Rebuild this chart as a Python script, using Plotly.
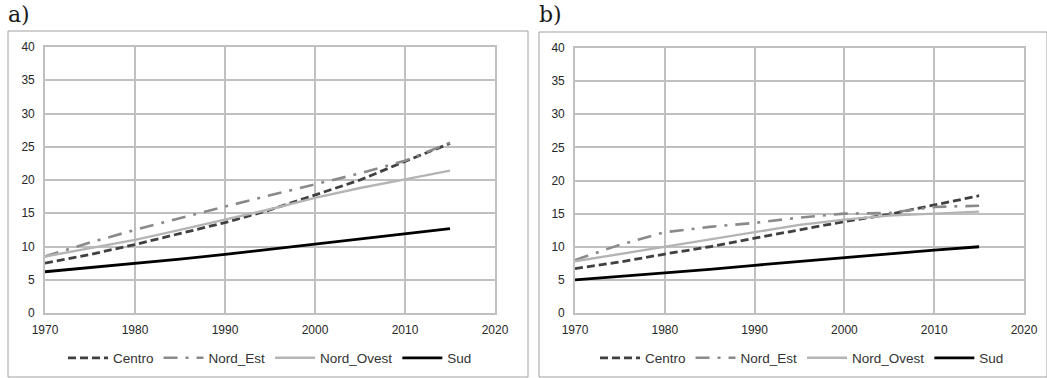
import plotly.graph_objects as go

W, H = 1047, 378

years = [1970, 1975, 1980, 1985, 1990, 1995, 2000, 2005, 2010, 2015]

# Panel a)
a_centro     = [7.5, 8.8, 10.3, 11.9, 13.6, 15.5, 17.7, 20.0, 22.8, 25.5]
a_nord_est   = [8.5, 10.6, 12.5, 14.3, 16.0, 17.7, 19.4, 21.0, 22.9, 25.6]
a_nord_ovest = [8.5, 9.7, 11.0, 12.5, 14.0, 15.6, 17.3, 18.8, 20.1, 21.4]
a_sud        = [6.2, 6.8, 7.5, 8.1, 8.8, 9.6, 10.3, 11.2, 12.0, 12.7]

# Panel b)
b_centro     = [6.7, 7.7, 8.9, 10.0, 11.3, 12.6, 13.8, 14.9, 16.3, 17.7]
b_nord_est   = [8.0, 10.3, 12.2, 13.0, 13.6, 14.4, 15.0, 15.1, 16.0, 16.2]
b_nord_ovest = [7.8, 8.9, 10.0, 11.1, 12.3, 13.3, 14.1, 14.7, 15.0, 15.3]
b_sud        = [5.0, 5.5, 6.0, 6.6, 7.2, 7.8, 8.4, 9.0, 9.5, 10.0]

series_names = ["Centro", "Nord_Est", "Nord_Ovest", "Sud"]
x_ticks = [1970, 1980, 1990, 2000, 2010, 2020]
y_ticks = [0, 5, 10, 15, 20, 25, 30, 35, 40]
panel_labels = ["a)", "b)"]

styles = {
    "Centro": dict(color="#404040", width=2.8, dash="8px,4px"),
    "Nord_Est": dict(color="#8a8a8a", width=2.6, dash="14px,8px,3px,8px"),
    "Nord_Ovest": dict(color="#b4b4b4", width=2.4, dash="solid"),
    "Sud": dict(color="#000000", width=2.8, dash="solid"),
}

fig = go.Figure()

panels = [
    (dict(zip(series_names, [a_centro, a_nord_est, a_nord_ovest, a_sud])), "x", "y", "legend"),
    (dict(zip(series_names, [b_centro, b_nord_est, b_nord_ovest, b_sud])), "x2", "y2", "legend2"),
]

for data, xa, ya, lg in panels:
    for name in series_names:
        fig.add_trace(go.Scatter(
            x=years, y=data[name], name=name, mode="lines",
            line=styles[name], xaxis=xa, yaxis=ya, legend=lg,
        ))

def px(x):
    return x / W

def py(y):
    return 1 - y / H

grid = "#c0c0c0"
tickfont = dict(family="Liberation Sans, Arial", size=12, color="#262626")

ax_common = dict(showgrid=True, gridcolor=grid, gridwidth=1.6, zeroline=False,
                 showline=True, linecolor=grid, linewidth=1.6, mirror=True,
                 ticks="outside", tickcolor="rgba(0,0,0,0)",
                 tickfont=tickfont, fixedrange=True, automargin=False)

legfont = dict(family="Liberation Sans, Arial", size=13.5, color="#333333")

fig.update_layout(
    template="none",
    width=W, height=H, margin=dict(l=0, r=0, t=0, b=0),
    paper_bgcolor="white", plot_bgcolor="white",
    xaxis=dict(domain=[px(45), px(495)], range=[1970, 2020], tickvals=x_ticks, anchor="y", ticklen=5, **ax_common),
    yaxis=dict(domain=[py(313), py(47)], range=[0, 40], tickvals=y_ticks, anchor="x", ticklen=6, **ax_common),
    xaxis2=dict(domain=[px(575), px(1024)], range=[1970, 2020], tickvals=x_ticks, anchor="y2", ticklen=5, **ax_common),
    yaxis2=dict(domain=[py(313), py(48)], range=[0, 40], tickvals=y_ticks, anchor="x2", ticklen=6, **ax_common),
    legend=dict(orientation="h", x=px(270), y=py(358), xanchor="center", yanchor="middle",
                font=legfont, itemwidth=40, tracegroupgap=0, bgcolor="rgba(0,0,0,0)"),
    legend2=dict(orientation="h", x=px(802), y=py(358), xanchor="center", yanchor="middle",
                 font=legfont, itemwidth=40, tracegroupgap=0, bgcolor="rgba(0,0,0,0)"),
    showlegend=True,
)

# outer frames
frames = [(8, 31, 528, 377), (539, 32, 1047, 377)]
for x0, y0, x1, y1 in frames:
    fig.add_shape(type="rect", xref="paper", yref="paper",
                  x0=px(x0), y0=py(y1), x1=px(x1), y1=py(y0),
                  line=dict(color="#a0a0a0", width=1), fillcolor="rgba(0,0,0,0)")

# panel labels
for lab, xpos in zip(panel_labels, [6, 537]):
    fig.add_annotation(text=lab, xref="paper", yref="paper", x=px(xpos), y=py(15),
                       xanchor="left", yanchor="middle", showarrow=False,
                       font=dict(family="DejaVu Serif", size=22, color="#1a1a1a"))

fig.write_html("out.html")
